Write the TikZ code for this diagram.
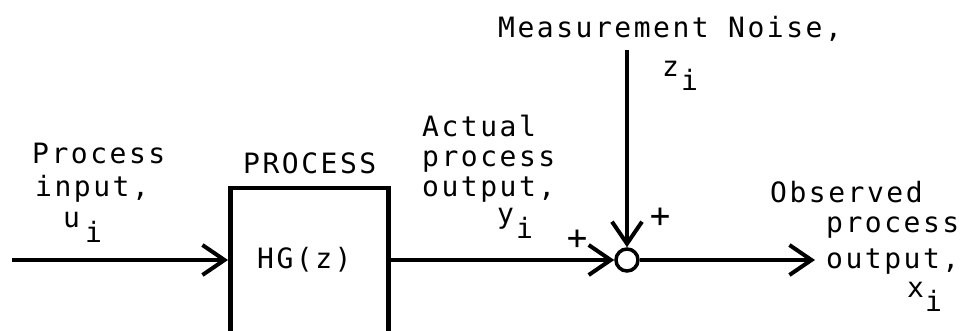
\documentclass[tikz,border=0pt]{standalone}
\usepackage{fontspec}
\newfontfamily\tw[LetterSpace=9]{DejaVu Sans Mono}
\usetikzlibrary{arrows.meta}
\newcommand{\lowsub}[2]{#1\kern#2\raisebox{-14pt}{i}}
\begin{document}
\begin{tikzpicture}[x=1pt,y=-1pt,
  lbl/.style={anchor=base west, inner sep=0pt, font=\tw\fontsize{28}{32}\selectfont},
  sign/.style={inner sep=0pt, font=\tw\fontsize{34}{36}\selectfont},
  conn/.style={line width=4pt, -{Straight Barb[length=22pt,width=30pt,line width=4pt]}},
  procbox/.style={draw, line width=4.5pt, minimum width=158pt, minimum height=190pt, anchor=north west, inner sep=0pt},
  sumnode/.style={draw, circle, line width=3.5pt, minimum size=22pt, inner sep=0pt}]
\useasboundingbox (0,0) rectangle (961,331);
\clip (0,0) rectangle (961,331);
% box and summing junction
\node[procbox] (proc) at (228,186) {};
\node[sumnode] (sum) at (627,260) {};
\coordinate (in) at (12,260);
\coordinate (noise) at (627,50);
\coordinate (out) at (815,260);
% connectors
\draw[conn] (in) -- (in -| proc.west);
\draw[conn] (proc.east |- sum) -- (sum.west);
\draw[conn] (noise) -- (sum.north);
\draw[conn] (sum.east) -- (out);
% labels
\node[lbl] (l1) at (32,164) {Process};
\node[lbl] (l2) at (35,197) {input,};
\node[lbl] (l3) at (63,228) {\lowsub{u}{5pt}};
\node[lbl] (l4) at (243,174) {PROCESS};
\node[lbl] (l5) at (257,268) {HG(z)};
\node[lbl] (l6) at (422,137) {Actual};
\node[lbl] (l7) at (422,167) {process};
\node[lbl] (l8) at (422,197) {output,};
\node[lbl] (l9) at (497,224) {\lowsub{y}{2pt}};
\node[lbl] (l10) at (498,38) {Measurement Noise,};
\node[lbl] (l11) at (662,77) {\lowsub{z}{2pt}};
\node[lbl] (l12) at (770,203) {Observed};
\node[lbl] (l13) at (826,233) {process};
\node[lbl] (l14) at (826,268) {output,};
\node[lbl] (l15) at (907,297) {\lowsub{x}{1pt}};
\node[sign] (s1) at (577,240) {+};
\node[sign] (s2) at (660,218) {+};
\end{tikzpicture}
\end{document}
